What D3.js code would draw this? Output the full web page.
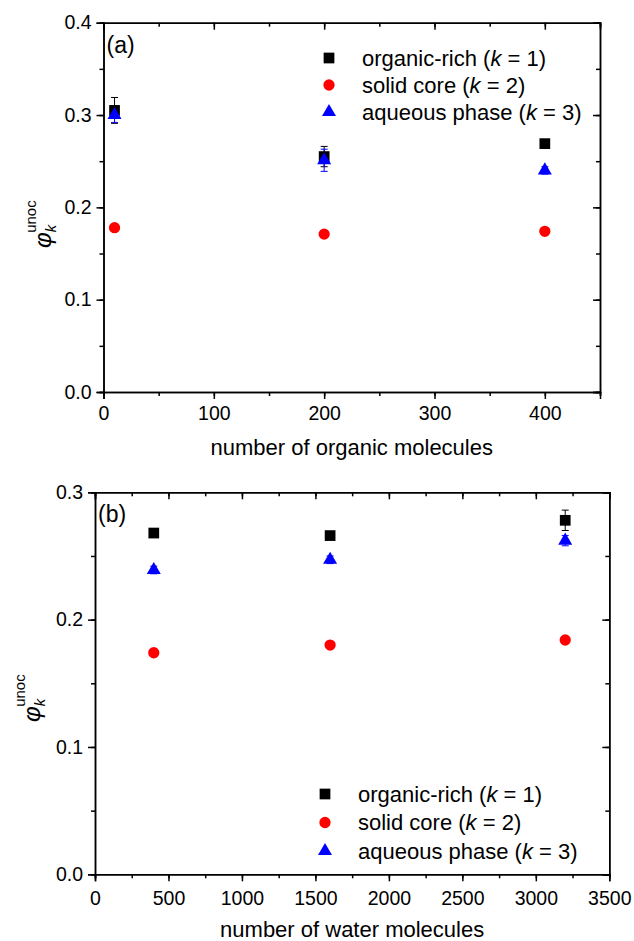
<!DOCTYPE html>
<html>
<head>
<meta charset="utf-8">
<script src="https://cdn.jsdelivr.net/npm/d3@7"></script>
<style>
  body { margin: 0; background: #fff; }
  svg { display: block; font-family: 'Liberation Sans', Arial, sans-serif; }
  .axis path, .axis line { stroke: #000; stroke-width: 1.5; }
  .axis text { font-size: 19.5px; fill: #000; font-family: 'Liberation Sans', Arial, sans-serif; }
</style>
</head>
<body>
<div id="chart"></div>
<script>
// panel (a): varying number of organic molecules
let organicCounts = [10, 200, 400]
let organicRichA = [0.305, 0.255, 0.269]
let organicRichAErr = [0.014, 0.011, 0.002]
let solidCoreA = [0.178, 0.171, 0.174]
let solidCoreAErr = [0.002, 0.002, 0.002]
let aqueousA = [0.3, 0.251, 0.24]
let aqueousAErr = [0.008, 0.012, 0.004]

// panel (b): varying number of water molecules
let waterCounts = [400, 1600, 3200]
let organicRichB = [0.268, 0.266, 0.278]
let organicRichBErr = [0.002, 0.003, 0.008]
let solidCoreB = [0.174, 0.18, 0.184]
let solidCoreBErr = [0.002, 0.002, 0.002]
let aqueousB = [0.239, 0.247, 0.262]
let aqueousBErr = [0.003, 0.003, 0.004]

let seriesNames = ['organic-rich', 'solid core', 'aqueous phase']
let seriesK = ['1', '2', '3']
let yTicksA = [0, 0.1, 0.2, 0.3, 0.4]
let yTicksB = [0, 0.1, 0.2, 0.3]
let xTicksA = [0, 100, 200, 300, 400]
let xTicksB = [0, 500, 1000, 1500, 2000, 2500, 3000, 3500]

let width = 634
let height = 941

let svg = d3
  .select('#chart')
  .append('svg')
  .attr('width', width)
  .attr('height', height)

let styles = [
  { shape: d3.symbolSquare, size: 115, fill: '#000', err: '#000' },
  { shape: d3.symbolCircle, size: 100, fill: '#ff0000', err: '#ff0000' },
  { shape: d3.symbolTriangle, size: 85, fill: '#0000ff', err: '#0000ff' }
]

function drawPanel(p) {
  let x = d3.scaleLinear().domain(p.xDomain).range([p.left, p.right])
  let y = d3.scaleLinear().domain(p.yDomain).range([p.bottom, p.top])

  let g = svg.append('g')

  // minor ticks (outside on left/bottom, inside on top/right)
  let xMinor = d3.range(p.xDomain[0], p.xDomain[1] + 1e-9, p.xMinor)
  let yMinor = d3.range(p.yDomain[0], p.yDomain[1] + 1e-9, 0.05)

  g.append('g')
    .attr('class', 'axis')
    .attr('transform', `translate(0,${p.bottom})`)
    .call(d3.axisBottom(x).tickValues(xMinor).tickSize(4).tickFormat(''))
  g.append('g')
    .attr('class', 'axis')
    .attr('transform', `translate(0,${p.top})`)
    .call(d3.axisTop(x).tickValues(xMinor).tickSize(-4).tickFormat(''))
  g.append('g')
    .attr('class', 'axis')
    .attr('transform', `translate(${p.left},0)`)
    .call(d3.axisLeft(y).tickValues(yMinor).tickSize(4).tickFormat(''))
  g.append('g')
    .attr('class', 'axis')
    .attr('transform', `translate(${p.right},0)`)
    .call(d3.axisRight(y).tickValues(yMinor).tickSize(-4).tickFormat(''))

  // major ticks
  g.append('g')
    .attr('class', 'axis')
    .attr('transform', `translate(0,${p.bottom})`)
    .call(d3.axisBottom(x).tickValues(p.xTicks).tickSize(7).tickPadding(p.xPad).tickFormat(d3.format('d')))
  g.append('g')
    .attr('class', 'axis')
    .attr('transform', `translate(0,${p.top})`)
    .call(d3.axisTop(x).tickValues(p.xTicks).tickSize(-7).tickFormat(''))
  g.append('g')
    .attr('class', 'axis')
    .attr('transform', `translate(${p.left},0)`)
    .call(d3.axisLeft(y).tickValues(p.yTicks).tickSize(7).tickPadding(5).tickFormat(d3.format('.1f')))
  g.append('g')
    .attr('class', 'axis')
    .attr('transform', `translate(${p.right},0)`)
    .call(d3.axisRight(y).tickValues(p.yTicks).tickSize(-7).tickFormat(''))

  // error bars
  p.series.forEach((s, i) => {
    let st = styles[i]
    let pts = p.xs.map((xv, j) => ({ x: xv, y: s.values[j], e: s.errors[j] }))
    let eb = g.append('g').attr('stroke', st.err).attr('stroke-width', 1)
    pts.forEach(d => {
      let cx = x(d.x)
      eb.append('line')
        .attr('x1', cx).attr('x2', cx)
        .attr('y1', y(d.y - d.e)).attr('y2', y(d.y + d.e))
      eb.append('line')
        .attr('x1', cx - 3.5).attr('x2', cx + 3.5)
        .attr('y1', y(d.y - d.e)).attr('y2', y(d.y - d.e))
      eb.append('line')
        .attr('x1', cx - 3.5).attr('x2', cx + 3.5)
        .attr('y1', y(d.y + d.e)).attr('y2', y(d.y + d.e))
    })
  })

  // markers
  p.series.forEach((s, i) => {
    let st = styles[i]
    g.append('g')
      .selectAll('path')
      .data(p.xs.map((xv, j) => ({ x: xv, y: s.values[j] })))
      .enter()
      .append('path')
      .attr('d', d3.symbol().type(st.shape).size(st.size))
      .attr('transform', d => `translate(${x(d.x)},${y(d.y)})`)
      .attr('fill', st.fill)
  })

  // legend
  seriesNames.forEach((name, i) => {
    let ly = p.legendY + i * p.legendStep
    g.append('path')
      .attr('d', d3.symbol().type(styles[i].shape).size(styles[i].size))
      .attr('transform', `translate(${p.legendX},${ly})`)
      .attr('fill', styles[i].fill)
    let t = g.append('text')
      .attr('x', p.legendX + 33)
      .attr('y', ly)
      .attr('dy', '0.36em')
      .attr('font-size', 22)
    t.append('tspan').text(name + ' (')
    t.append('tspan').attr('font-style', 'italic').text('k')
    t.append('tspan').text(' = ' + seriesK[i] + ')')
  })

  // panel letter
  g.append('text')
    .attr('x', p.left + 3)
    .attr('y', p.top + 30)
    .attr('font-size', 23)
    .text(p.letter)

  // x label
  g.append('text')
    .attr('x', (p.left + p.right) / 2)
    .attr('y', p.xLabelY)
    .attr('text-anchor', 'middle')
    .attr('font-size', 22)
    .text(p.xLabel)

  // y label: phi_k^unoc
  let yl = g.append('text')
    .attr('transform', `translate(${p.yLabelX},${p.yLabelY}) rotate(-90)`)
  yl.append('tspan').attr('font-size', 24).attr('font-style', 'italic').text('φ')
  yl.append('tspan').attr('font-size', 15).attr('font-style', 'italic').attr('dy', 5).text('k')
  yl.append('tspan').attr('font-size', 15).attr('dx', -8).attr('dy', -20).text('unoc')
}

drawPanel({
  left: 103.5, right: 600, top: 22.7, bottom: 392,
  xDomain: [0, 450], yDomain: [0, 0.4],
  xTicks: xTicksA, yTicks: yTicksA, xMinor: 50, xPad: 7,
  xs: organicCounts,
  series: [
    { values: organicRichA, errors: organicRichAErr },
    { values: solidCoreA, errors: solidCoreAErr },
    { values: aqueousA, errors: aqueousAErr }
  ],
  legendX: 329, legendY: 58, legendStep: 27,
  letter: '(a)',
  xLabel: 'number of organic molecules', xLabelY: 455,
  yLabelX: 51, yLabelY: 248
})

drawPanel({
  left: 95, right: 609.3, top: 492.3, bottom: 874.3,
  xDomain: [0, 3500], yDomain: [0, 0.3],
  xTicks: xTicksB, yTicks: yTicksB, xMinor: 250, xPad: 9.5,
  xs: waterCounts,
  series: [
    { values: organicRichB, errors: organicRichBErr },
    { values: solidCoreB, errors: solidCoreBErr },
    { values: aqueousB, errors: aqueousBErr }
  ],
  legendX: 325, legendY: 794, legendStep: 28.5,
  letter: '(b)',
  xLabel: 'number of water molecules', xLabelY: 937,
  yLabelX: 40, yLabelY: 722
})
</script>
</body>
</html>
